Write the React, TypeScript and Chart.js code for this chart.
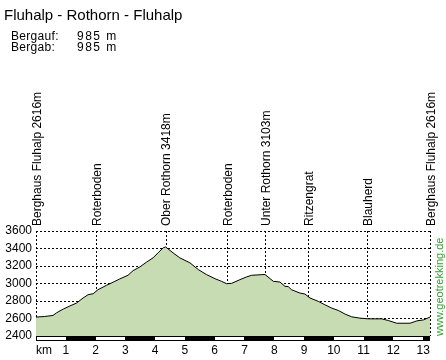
import React, { useEffect, useRef } from "react";
import { Chart, registerables } from "chart.js";

Chart.register(...registerables);

const chartTitle = "Fluhalp - Rothorn - Fluhalp";
const statLabels = ["Bergauf:", "Bergab:"];
const statValues = ["985 m", "985 m"];

const distanceKm = [
  0, 0.29, 0.57, 0.69, 0.91, 1.13, 1.36, 1.58, 1.75, 1.92, 2.08, 2.37, 2.65, 2.81, 3.09, 3.26,
  3.49, 3.71, 3.93, 4.1, 4.27, 4.35, 4.6, 4.83, 5.17, 5.45, 5.73, 6.01, 6.23, 6.4, 6.57, 6.85,
  7.07, 7.24, 7.58, 7.69, 7.97, 8.19, 8.36, 8.47, 8.58, 8.86, 9.03, 9.2, 9.48, 9.7, 9.93, 10.15,
  10.38, 10.6, 10.88, 11.16, 11.61, 11.83, 12.11, 12.56, 12.79, 13.01, 13.23,
];
const elevationM = [
  2616, 2623, 2635, 2665, 2707, 2742, 2776, 2834, 2872, 2883, 2929, 2980, 3025, 3052, 3094, 3147,
  3190, 3244, 3293, 3351, 3408, 3418, 3351, 3293, 3236, 3159, 3101, 3055, 3025, 2998, 3002, 3044,
  3075, 3094, 3101, 3103, 3025, 3017, 2968, 2964, 2929, 2891, 2880, 2834, 2796, 2757, 2719, 2692,
  2650, 2619, 2604, 2596, 2596, 2577, 2546, 2546, 2573, 2584, 2616,
];

const waypointNames = [
  "Berghaus Fluhalp 2616m",
  "Roterboden",
  "Ober Rothorn 3418m",
  "Roterboden",
  "Unter Rothorn 3103m",
  "Ritzengrat",
  "Blauherd",
  "Berghaus Fluhalp 2616m",
];
const waypointKm = [0, 2.03, 4.35, 6.42, 7.69, 9.14, 11.13, 13.23];

const kmTicks = [1, 2, 3, 4, 5, 6, 7, 8, 9, 10, 11, 12, 13];
const elevationTicks = [2400, 2600, 2800, 3000, 3200, 3400, 3600];
const axisUnit = "km";
const watermark = "www.geotrekking.de";

const FONT = '"Liberation Sans", Arial, sans-serif';

export default function App() {
  const ref = useRef<HTMLCanvasElement | null>(null);

  useEffect(() => {
    const canvas = ref.current;
    if (!canvas) return;
    const maxKm = distanceKm[distanceKm.length - 1];

    const overlay = {
      id: "profileOverlay",
      beforeDatasetsDraw(chart: any) {
        const { ctx, chartArea } = chart;
        const xs = chart.scales.x;
        ctx.save();
        ctx.strokeStyle = "#000";
        ctx.lineWidth = 1;
        ctx.setLineDash([2, 2]);
        waypointKm.forEach((k) => {
          const px = Math.round(xs.getPixelForValue(k)) + 0.5;
          ctx.beginPath();
          ctx.moveTo(px, chartArea.top);
          ctx.lineTo(px, chartArea.bottom);
          ctx.stroke();
        });
        ctx.restore();
      },
      afterDraw(chart: any) {
        const { ctx, chartArea } = chart;
        const xs = chart.scales.x;
        ctx.save();
        // title & stats
        ctx.fillStyle = "#000";
        ctx.textBaseline = "alphabetic";
        ctx.textAlign = "left";
        ctx.font = `15px ${FONT}`;
        ctx.fillText(chartTitle, 4, 20);
        ctx.font = `12px ${FONT}`;
        statLabels.forEach((l, i) => {
          ctx.letterSpacing = "0.3px";
          ctx.fillText(l, 11, 40 + i * 11);
          ctx.letterSpacing = "1.5px";
          ctx.fillText(statValues[i], 77, 40 + i * 11);
        });
        ctx.letterSpacing = "0px";
        // waypoint labels
        ctx.font = `12px ${FONT}`;
        waypointNames.forEach((name, i) => {
          const px = xs.getPixelForValue(waypointKm[i]);
          ctx.save();
          ctx.translate(px + 1.5, chartArea.top - 5);
          ctx.rotate(-Math.PI / 2);
          ctx.textAlign = "left";
          ctx.textBaseline = "middle";
          ctx.fillText(name, 0, 0);
          ctx.restore();
        });
        // km scale bar
        const y0 = chartArea.bottom;
        for (let k = 0; k < maxKm; k++) {
          const a = Math.round(xs.getPixelForValue(k));
          const b = Math.round(xs.getPixelForValue(Math.min(k + 1, maxKm)));
          ctx.fillStyle = k % 2 === 0 ? "#fff" : "#000";
          ctx.fillRect(a, y0, b - a, 5);
        }
        const left = Math.round(xs.getPixelForValue(0));
        const right = Math.round(xs.getPixelForValue(maxKm));
        ctx.strokeStyle = "#000";
        ctx.lineWidth = 1;
        ctx.strokeRect(left + 0.5, y0 + 0.5, right - left - 1, 4);
        // unit
        ctx.fillStyle = "#000";
        ctx.font = `12px ${FONT}`;
        ctx.textAlign = "left";
        ctx.textBaseline = "alphabetic";
        ctx.fillText(axisUnit, left, 354);
        // watermark
        ctx.save();
        ctx.translate(right + 10, y0);
        ctx.rotate(-Math.PI / 2);
        ctx.fillStyle = "#33a033";
        ctx.font = `11px ${FONT}`;
        ctx.textAlign = "left";
        ctx.textBaseline = "middle";
        ctx.fillText(watermark, 0, 0);
        ctx.restore();
        ctx.restore();
      },
    };

    const chart = new Chart(canvas, {
      type: "line",
      data: {
        datasets: [
          {
            data: distanceKm.map((d, i) => ({ x: d, y: elevationM[i] })),
            borderColor: "#000",
            borderWidth: 1,
            backgroundColor: "#c8dcb4",
            fill: "start",
            pointRadius: 0,
            tension: 0,
          },
        ],
      },
      options: {
        responsive: false,
        animation: false,
        devicePixelRatio: 1,
        layout: { padding: { top: 231, right: 16, left: 0, bottom: 0 } },
        plugins: { legend: { display: false }, tooltip: { enabled: false }, title: { display: false } },
        scales: {
          x: {
            type: "linear",
            min: 0,
            max: maxKm,
            grid: { display: false, drawTicks: false },
            border: { display: false },
            afterBuildTicks: (s: any) => {
              s.ticks = kmTicks.map((v) => ({ value: v }));
            },
            afterFit: (s: any) => {
              s.height = 24;
            },
            ticks: {
              autoSkip: false,
              maxRotation: 0,
              padding: 7,
              color: "#000",
              font: { family: FONT, size: 12 },
              callback: (v: any) => String(v),
            },
          },
          y: {
            min: elevationTicks[0],
            max: elevationTicks[elevationTicks.length - 1],
            z: 1,
            afterBuildTicks: (s: any) => {
              s.ticks = elevationTicks.map((v) => ({ value: v }));
            },
            afterFit: (s: any) => {
              s.width = 36;
            },
            grid: {
              drawTicks: false,
              color: (c: any) => (c.tick && c.tick.value === elevationTicks[0] ? "rgba(0,0,0,0)" : "#000"),
              lineWidth: 1,
            },
            border: { display: false, dash: [2, 2] },
            ticks: {
              padding: 4,
              color: "#000",
              font: { family: FONT, size: 12 },
              callback: (v: any) => String(v),
            },
          },
        },
      } as any,
      plugins: [overlay],
    });

    return () => chart.destroy();
  }, []);

  return (
    <div style={{ position: "absolute", left: 0, top: 0, width: 446, height: 360, background: "#fff" }}>
      <canvas ref={ref} width={446} height={360} style={{ width: 446, height: 360, display: "block" }} />
    </div>
  );
}
